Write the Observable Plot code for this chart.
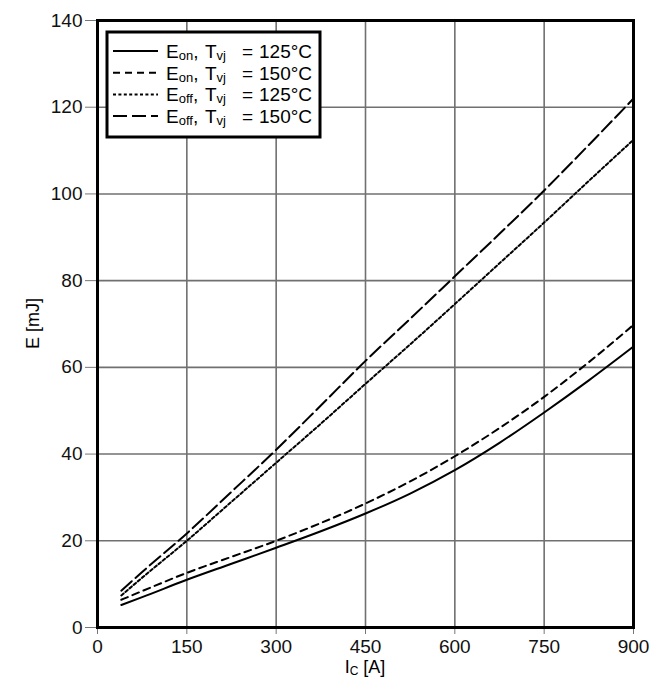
<!DOCTYPE html>
<html>
<head>
<meta charset="utf-8">
<script src="https://cdn.jsdelivr.net/npm/d3@7"></script>
<script src="https://cdn.jsdelivr.net/npm/@observablehq/plot@0.6"></script>
<style>
  html, body { margin: 0; padding: 0; background: #fff; }
  #chart { width: 664px; height: 680px; }
  svg { font-family: "Liberation Sans", Arial, sans-serif; }
</style>
</head>
<body>
<div id="chart"></div>
<script>
// Collector current I_C [A]
const ic = [40, 75, 150, 225, 300, 375, 450, 525, 600, 675, 750, 825, 900];
// Switching energies [mJ]
const eon125  = [5.2, 7.0, 11.0, 14.7, 18.4, 22.2, 26.3, 30.9, 36.3, 42.6, 49.6, 57.0, 64.8];
const eon150  = [6.4, 8.4, 12.6, 16.3, 20.0, 24.1, 28.6, 33.7, 39.5, 46.0, 53.2, 61.2, 69.8];
const eoff125 = [7.4, 11.5, 20.0, 29.0, 38.0, 47.0, 56.2, 65.3, 74.6, 84.0, 93.4, 103.0, 112.5];
const eoff150 = [8.5, 12.8, 21.7, 31.3, 41.0, 51.2, 61.5, 71.2, 81.0, 90.8, 100.8, 111.3, 122.0];

const xTicks = [0, 150, 300, 450, 600, 750, 900];
const yTicks = [0, 20, 40, 60, 80, 100, 120, 140];

const seriesNames = ["Eon125", "Eon150", "Eoff125", "Eoff150"];
const seriesValues = [eon125, eon150, eoff125, eoff150];
// legend label parts: [main, sub, temperature]
const legendParts = [["E", "on", "125°C"], ["E", "on", "150°C"], ["E", "off", "125°C"], ["E", "off", "150°C"]];
const dashes = ["none", "7,5", "3,2.4", "14,5"];

const rows = seriesNames.flatMap((s, k) => ic.map((x, i) => ({series: s, ic: x, e: seriesValues[k][i]})));

const font = "Liberation Sans, Arial, sans-serif";

function legendMark(index, scales, values, dims) {
  const g = d3.create("svg:g").attr("font-family", font).attr("text-anchor", "start");
  const x0 = dims.marginLeft + 10, y0 = dims.marginTop + 12;
  g.append("rect").attr("x", x0).attr("y", y0).attr("width", 213).attr("height", 105)
    .attr("fill", "white").attr("stroke", "black").attr("stroke-width", 3);
  legendParts.forEach((p, k) => {
    const y = y0 + 19 + k * 21.7;
    g.append("line").attr("x1", x0 + 6).attr("x2", x0 + 51).attr("y1", y).attr("y2", y)
      .attr("stroke", "black").attr("stroke-width", 2).attr("stroke-dasharray", dashes[k]);
    const t = g.append("text").attr("y", y + 7).attr("font-size", 19).attr("fill", "black");
    t.append("tspan").attr("x", x0 + 59).text(p[0]);
    t.append("tspan").attr("font-size", 13).attr("dy", 2).text(p[1]);
    t.append("tspan").attr("dy", -2).text(",");
    t.append("tspan").attr("x", x0 + 98).text("T");
    t.append("tspan").attr("font-size", 13).attr("dy", 2).text("vj");
    t.append("tspan").attr("dy", -2).attr("x", x0 + 135).text("=");
    t.append("tspan").attr("x", x0 + 152).text(p[2]);
  });
  return g.node();
}

function labelMark(index, scales, values, dims) {
  const g = d3.create("svg:g").attr("font-family", font);
  const cx = dims.marginLeft + (dims.width - dims.marginLeft - dims.marginRight) / 2;
  const t = g.append("text").attr("x", cx).attr("y", dims.height - 7).attr("text-anchor", "middle")
    .attr("font-size", 18).attr("fill", "black");
  t.append("tspan").text("I");
  t.append("tspan").attr("font-size", 12).attr("dy", 2).text("C");
  t.append("tspan").attr("dy", -2).text(" [A]");
  const cy = dims.marginTop + (dims.height - dims.marginTop - dims.marginBottom) / 2;
  g.append("text").attr("transform", `translate(39,${cy}) rotate(-90)`).attr("text-anchor", "middle")
    .attr("font-size", 18).attr("fill", "black").text("E [mJ]");
  return g.node();
}

const chart = Plot.plot({
  width: 664,
  height: 680,
  marginLeft: 97,
  marginRight: 31,
  marginTop: 20,
  marginBottom: 53,
  style: {fontFamily: font, fontSize: "19px", color: "black", background: "white"},
  x: {domain: [0, 900]},
  y: {domain: [0, 140]},
  marks: [
    Plot.gridX(xTicks, {stroke: "#707070", strokeOpacity: 1, strokeWidth: 1.6}),
    Plot.gridY(yTicks, {stroke: "#707070", strokeOpacity: 1, strokeWidth: 1.6}),
    Plot.axisX(xTicks, {tickSize: 7, tickPadding: 5, stroke: "#777", fill: "#111", fontSize: 19, label: null}),
    Plot.axisY(yTicks, {tickSize: 12, tickPadding: 3, stroke: "#777", fill: "#111", fontSize: 19, label: null}),
    ...seriesNames.map((s, k) => Plot.line(rows.filter(d => d.series === s), {
      x: "ic", y: "e", stroke: "black", strokeWidth: 2, curve: "monotone-x",
      strokeDasharray: dashes[k]
    })),
    Plot.frame({stroke: "black", strokeWidth: 3}),
    legendMark,
    labelMark
  ]
});
document.getElementById("chart").appendChild(chart);
</script>
</body>
</html>
